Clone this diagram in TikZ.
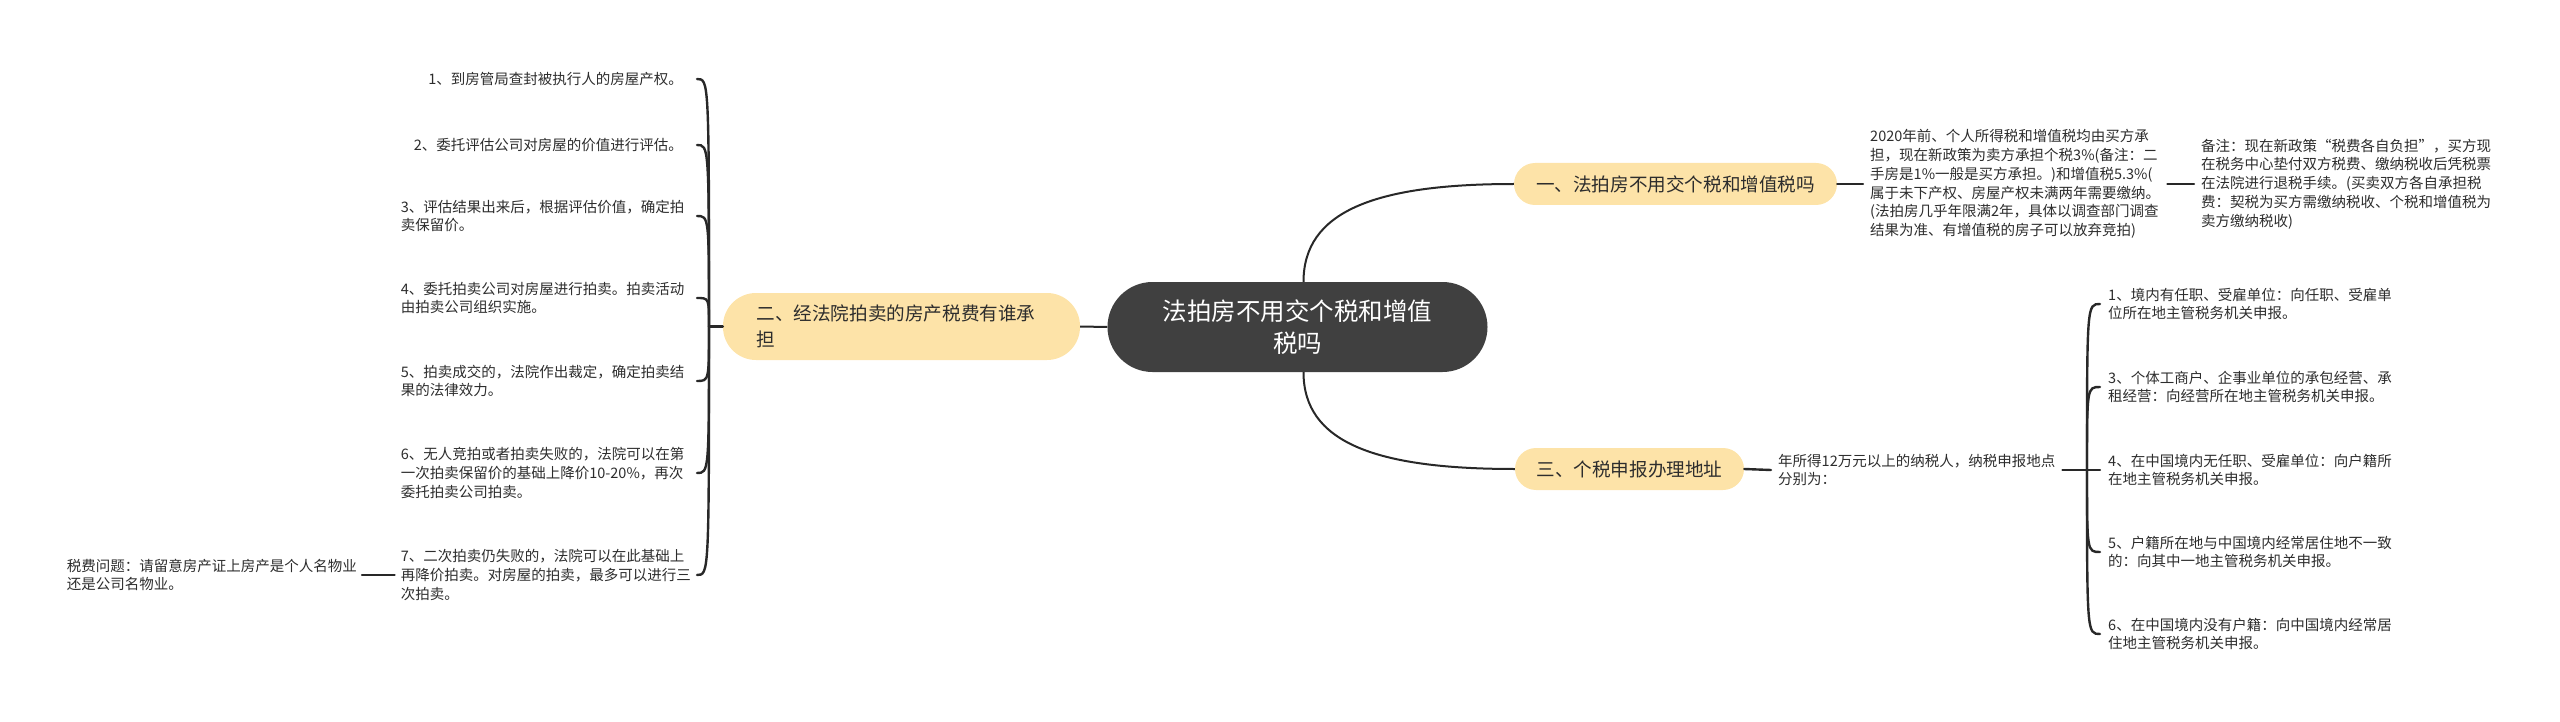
\documentclass[tikz,border=0pt]{standalone}
\usepackage{fontspec}
\setmainfont{Noto Sans CJK SC}
\usetikzlibrary{calc}
\definecolor{branchfill}{RGB}{253,227,168}
\definecolor{rootfill}{RGB}{64,64,64}
\definecolor{linecol}{RGB}{40,40,40}
\definecolor{txtcol}{RGB}{45,45,45}
\begin{document}
\begin{tikzpicture}[x=1pt,y=-1pt,
  rootnode/.style={fill=rootfill, rounded corners=45pt, minimum width=380pt, minimum height=90pt, text=white, align=center, inner sep=0pt, font=\fontsize{24.5pt}{32pt}\selectfont},
  branchnode/.style={fill=branchfill, rounded corners=21pt, minimum height=42pt, inner xsep=21pt, inner ysep=0pt, text=txtcol, font=\fontsize{18.6pt}{26pt}\selectfont},
  leaf/.style={text=txtcol, font=\fontsize{14.5pt}{18.8pt}\selectfont, inner ysep=2pt, align=left},
  conn/.style={draw=linecol, line width=2pt},
  brace/.style={draw=linecol, line width=2.4pt, line cap=round},
]
\useasboundingbox (0,0) rectangle (2560,722);

% root and main branches
\node[rootnode] (root) at (1297.5,327) {法拍房不用交个税和增值\\税吗};
\node[branchnode, rounded corners=33pt, minimum width=357pt, minimum height=67pt, text width=290pt, align=left, inner xsep=0pt] (b2) at (901.5,326.5) {二、经法院拍卖的房产税费有谁承\\担};
\node[branchnode, minimum width=323pt] (b1) at (1675.5,184) {一、法拍房不用交个税和增值税吗};
\node[branchnode, minimum width=229pt] (b3) at (1629.5,469) {三、个税申报办理地址};

\draw[conn] (root.west) -- (b2.east);
\draw[conn] ([xshift=6pt]root.north) .. controls +(0,-70) and +(-140,0) .. (b1.west);
\draw[conn] ([xshift=6pt]root.south) .. controls +(0,70) and +(-140,0) .. (b3.west);

% branch one
\node[leaf, anchor=west, inner xsep=7pt] (r1) at (1863,184) {2020年前、个人所得税和增值税均由买方承\\担，现在新政策为卖方承担个税3\%(备注：二\\手房是1\%一般是买方承担。)和增值税5.3\%(\\属于未下产权、房屋产权未满两年需要缴纳。\\(法拍房几乎年限满2年，具体以调查部门调查\\结果为准、有增值税的房子可以放弃竞拍)};
\node[leaf, anchor=west, inner xsep=7pt] (r2) at (2194,184) {备注：现在新政策“税费各自负担”，买方现\\在税务中心垫付双方税费、缴纳税收后凭税票\\在法院进行退税手续。(买卖双方各自承担税\\费：契税为买方需缴纳税收、个税和增值税为\\卖方缴纳税收)};
\draw[brace] (b1.east) -- (r1.west);
\draw[brace] (r1.east) -- (r2.west);

% branch three
\node[leaf, anchor=west, inner xsep=7pt] (s0) at (1771,470) {年所得12万元以上的纳税人，纳税申报地点\\分别为：};
\draw[brace] (b3.east) -- (s0.west);
\coordinate (rstem) at (2087,470);
\node[leaf, anchor=west, inner xsep=8pt, text width=290pt] (s1) at (2100,304) {1、境内有任职、受雇单位：向任职、受雇单\\位所在地主管税务机关申报。};
\node[leaf, anchor=west, inner xsep=8pt, text width=290pt] (s2) at (2100,387) {3、个体工商户、企事业单位的承包经营、承\\租经营：向经营所在地主管税务机关申报。};
\node[leaf, anchor=west, inner xsep=8pt, text width=290pt] (s3) at (2100,470) {4、在中国境内无任职、受雇单位：向户籍所\\在地主管税务机关申报。};
\node[leaf, anchor=west, inner xsep=8pt, text width=290pt] (s4) at (2100,552) {5、户籍所在地与中国境内经常居住地不一致\\的：向其中一地主管税务机关申报。};
\node[leaf, anchor=west, inner xsep=8pt, text width=290pt] (s5) at (2100,634) {6、在中国境内没有户籍：向中国境内经常居\\住地主管税务机关申报。};
\draw[brace] (s0.east) -- (rstem);
\foreach \n in {s1,s2,s3,s4,s5}
  \draw[brace] (rstem) .. controls (rstem |- \n.west) and (rstem |- \n.west) .. (\n.west);

% branch two
\coordinate (lstem) at (709,326.5);
\draw[brace] (b2.west) -- (lstem);
\node[leaf, anchor=east, inner xsep=14pt] (l1) at (697,79) {1、到房管局查封被执行人的房屋产权。};
\node[leaf, anchor=east, inner xsep=14pt] (l2) at (697,145) {2、委托评估公司对房屋的价值进行评估。};
\node[leaf, anchor=east, inner xsep=6pt, text width=290pt] (l3) at (697,216) {3、评估结果出来后，根据评估价值，确定拍\\卖保留价。};
\node[leaf, anchor=east, inner xsep=6pt, text width=290pt] (l4) at (697,298) {4、委托拍卖公司对房屋进行拍卖。拍卖活动\\由拍卖公司组织实施。};
\node[leaf, anchor=east, inner xsep=6pt, text width=290pt] (l5) at (697,381) {5、拍卖成交的，法院作出裁定，确定拍卖结\\果的法律效力。};
\node[leaf, anchor=east, inner xsep=6pt, text width=290pt] (l6) at (697,473) {6、无人竞拍或者拍卖失败的，法院可以在第\\一次拍卖保留价的基础上降价10-20\%，再次\\委托拍卖公司拍卖。};
\node[leaf, anchor=east, inner xsep=6pt, text width=290pt] (l7) at (697,575) {7、二次拍卖仍失败的，法院可以在此基础上\\再降价拍卖。对房屋的拍卖，最多可以进行三\\次拍卖。};
\foreach \n in {l1,l2,l3,l4,l5,l6,l7}
  \draw[brace] (lstem) .. controls (lstem |- \n.east) and (lstem |- \n.east) .. (\n.east);

\node[leaf, anchor=east, inner xsep=5pt] (l0) at (362,575) {税费问题：请留意房产证上房产是个人名物业\\还是公司名物业。};
\draw[brace] (l7.west) -- (l0.east);
\end{tikzpicture}
\end{document}
